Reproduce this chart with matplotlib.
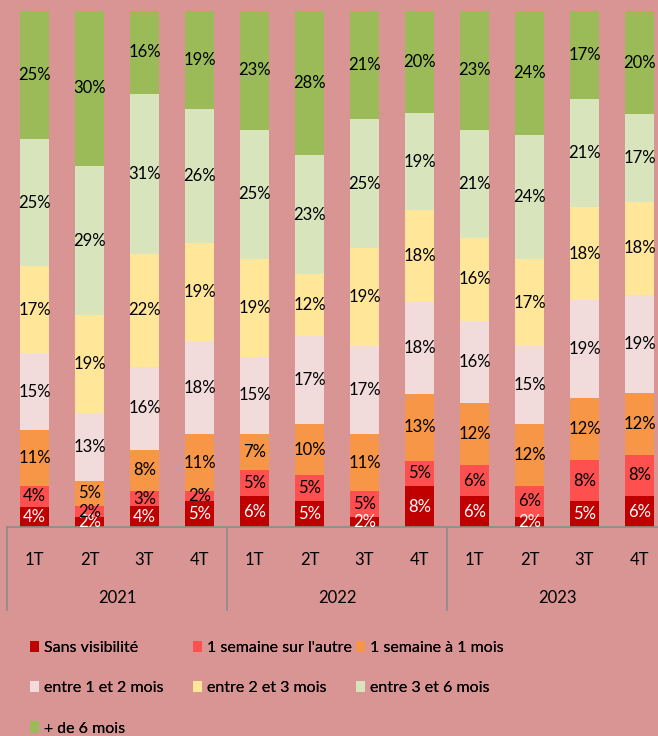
import numpy as np
import matplotlib
matplotlib.use("Agg")
import matplotlib.pyplot as plt
from matplotlib.transforms import blended_transform_factory

plt.rcParams['font.family'] = ['Lato', 'DejaVu Sans']

# data (percentages, bottom to top)
quarters = ['1T', '2T', '3T', '4T'] * 3
years = ['2021', '2022', '2023']
series = ['Sans visibilité', "1 semaine sur l'autre", '1 semaine à 1 mois',
          'entre 1 et 2 mois', 'entre 2 et 3 mois', 'entre 3 et 6 mois', '+ de 6 mois']
sans_visibilite = [4, 2, 4, 5, 6, 5, 2, 8, 6, 2, 5, 6]
une_semaine = [4, 2, 3, 2, 5, 5, 5, 5, 6, 6, 8, 8]
semaine_mois = [11, 5, 8, 11, 7, 10, 11, 13, 12, 12, 12, 12]
mois_1_2 = [15, 13, 16, 18, 15, 17, 17, 18, 16, 15, 19, 19]
mois_2_3 = [17, 19, 22, 19, 19, 12, 19, 18, 16, 17, 18, 18]
mois_3_6 = [25, 29, 31, 26, 25, 23, 25, 19, 21, 24, 21, 17]
plus_6 = [25, 30, 16, 19, 23, 28, 21, 20, 23, 24, 17, 20]

colors = ['#C00000', '#FF5050', '#F79646', '#F2DCDB', '#FFE699', '#D8E4BC', '#9BBB59']
bg = '#D99594'

values = np.array([sans_visibilite, une_semaine, semaine_mois, mois_1_2,
                   mois_2_3, mois_3_6, plus_6], dtype=float)
shares = values / values.sum(axis=0) * 100   # 100% stacked, like Excel

W, H = 658, 736
fig = plt.figure(figsize=(W / 100, H / 100), dpi=100, facecolor=bg)
ax = fig.add_axes([7 / W, 209 / H, 660 / W, 516 / H])
ax.set_facecolor(bg)

x = np.arange(len(quarters))
bottom = np.zeros(len(quarters))
bars = []
for i, name in enumerate(series):
    b = ax.bar(x, shares[i], 0.51, bottom=bottom, color=colors[i], label=name, zorder=2)
    bars.append(b)
    txtcol = 'white' if i == 0 else 'black'
    for xi, v, bt, h in zip(x, values[i], bottom, shares[i]):
        ax.text(xi, bt + h / 2, '%d%%' % v, ha='center', va='center',
                fontsize=12, color=txtcol, zorder=4)
    bottom += shares[i]

ax.set_xlim(-0.5, len(quarters) - 0.5)
ax.set_ylim(0, 100)
ax.set_yticks([])
for s in ['top', 'right', 'left']:
    ax.spines[s].set_visible(False)
ax.spines['bottom'].set_color('#8C8C8C')
ax.spines['bottom'].set_linewidth(1.2)
ax.spines['bottom'].set_zorder(3)
ax.set_xticks(x, quarters, fontsize=12)
ax.tick_params(axis='x', length=0, pad=18)

# year groups
trans = blended_transform_factory(ax.transData, ax.transAxes)
for k, yr in enumerate(years):
    ax.text(4 * k + 1.5, -0.137, yr, transform=trans, ha='center', va='center', fontsize=12)
for edge in np.arange(len(years) + 1) * 4 - 0.5:
    ax.plot([edge, edge], [0, -0.161], transform=trans, color='#8C8C8C', lw=1.2, clip_on=False)

# legend, three columns in Excel order
cols = [[0, 3, 6], [1, 4], [2, 5]]
xs = [30, 193, 356]
for c, x0 in zip(cols, xs):
    leg = fig.legend([bars[i] for i in c], [series[i] for i in c], loc='upper left',
                     bbox_to_anchor=(x0 / W, 1 - 641 / H), frameon=False, fontsize=11.5,
                     handlelength=0.56, handleheight=0.7, handletextpad=0.3,
                     labelspacing=1.63, borderpad=0, borderaxespad=0)
    fig.add_artist(leg)

fig.savefig('out.png', dpi=100, facecolor=bg)
